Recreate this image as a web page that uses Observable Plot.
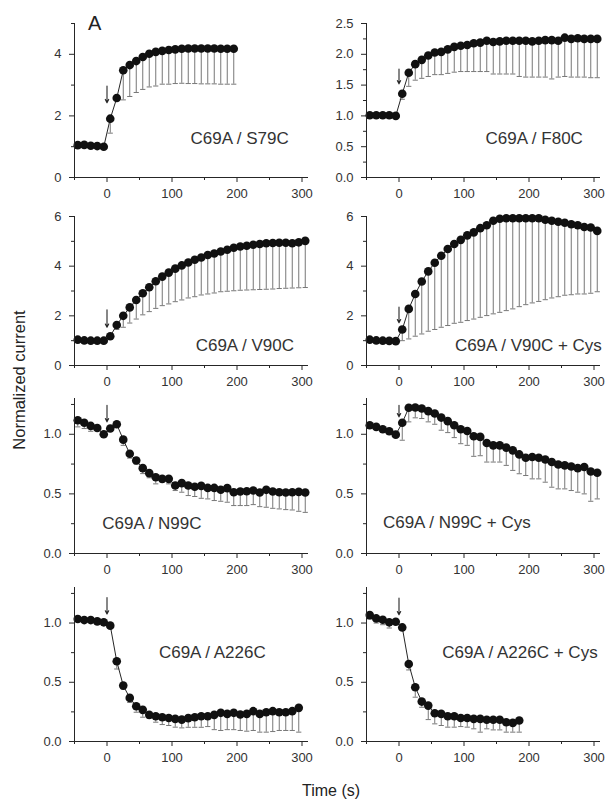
<!DOCTYPE html>
<html><head><meta charset="utf-8">
<script src="https://cdn.jsdelivr.net/npm/d3@7"></script>
<script src="https://cdn.jsdelivr.net/npm/@observablehq/plot@0.6"></script>
<style>
html,body{margin:0;padding:0;background:#fff;}
#chart{position:relative;width:605px;height:800px;overflow:hidden;font-family:"Liberation Sans",Arial,sans-serif;}
#chart svg{position:absolute;}
</style></head><body><div id="chart"></div>
<script>
// Time points (s)
const times = [-45,-35,-25,-15,-5,5,15,25,35,45,55,65,75,85,95,105,115,125,135,145,155,165,175,185,195,205,215,225,235,245,255,265,275,285,295,305];

const panelLabels = ["C69A / S79C","C69A / F80C","C69A / V90C","C69A / V90C + Cys","C69A / N99C","C69A / N99C + Cys","C69A / A226C","C69A / A226C + Cys"];

const s79cMean = [1.05,1.06,1.03,1.02,1.00,1.91,2.58,3.48,3.65,3.78,3.91,4.02,4.08,4.11,4.14,4.16,4.18,4.19,4.19,4.19,4.19,4.19,4.18,4.18,4.18];
const s79cLow  = [null,null,null,null,null,1.44,null,2.52,2.63,2.76,2.86,2.94,2.97,3.03,3.03,3.05,3.06,3.05,3.05,3.04,3.04,3.04,3.03,3.03,3.03];

const f80cMean = [1.01,1.01,1.01,1.01,1.00,1.36,1.70,1.84,1.91,1.98,2.03,2.04,2.08,2.12,2.14,2.15,2.18,2.19,2.22,2.20,2.21,2.22,2.22,2.22,2.22,2.21,2.22,2.23,2.23,2.22,2.27,2.25,2.26,2.25,2.25,2.25];
const f80cLow  = [null,null,null,null,null,1.27,1.48,1.58,1.61,1.64,1.67,1.67,1.69,1.71,1.72,1.72,1.72,1.72,1.72,1.68,1.68,1.68,1.68,1.64,1.63,1.63,1.63,1.63,1.60,1.63,1.64,1.63,1.63,1.63,1.62,1.62];

const v90cMean = [1.04,1.01,1.00,1.00,1.00,1.18,1.63,2.00,2.34,2.64,2.91,3.15,3.39,3.58,3.74,3.90,4.03,4.15,4.26,4.35,4.45,4.51,4.59,4.66,4.74,4.79,4.82,4.86,4.89,4.92,4.93,4.94,4.94,4.92,4.96,5.02];
const v90cLow  = [null,null,null,null,null,null,1.45,1.54,1.71,1.87,2.04,2.17,2.30,2.41,2.48,2.57,2.64,2.72,2.77,2.84,2.88,2.92,2.97,2.99,3.01,3.03,3.04,3.05,3.06,3.07,3.08,3.10,3.11,3.12,3.13,3.14];

const v90cCysMean = [1.04,1.01,1.00,0.99,0.98,1.45,2.28,2.88,3.38,3.79,4.14,4.42,4.69,4.89,5.06,5.24,5.36,5.53,5.65,5.83,5.91,5.93,5.93,5.93,5.93,5.93,5.93,5.87,5.83,5.79,5.75,5.69,5.65,5.58,5.56,5.42];
const v90cCysLow  = [null,null,null,null,null,1.00,1.07,1.18,1.27,1.38,1.45,1.54,1.61,1.70,1.74,1.81,1.87,1.94,2.01,2.08,2.14,2.21,2.28,2.37,2.45,2.52,2.58,2.65,2.72,2.77,2.83,2.85,2.88,2.88,2.91,2.97];

const n99cMean = [1.118,1.096,1.07,1.053,1.0,1.048,1.084,0.955,0.837,0.78,0.716,0.674,0.64,0.626,0.626,0.57,0.59,0.57,0.56,0.567,0.55,0.55,0.535,0.548,0.514,0.52,0.522,0.528,0.511,0.534,0.52,0.514,0.511,0.514,0.517,0.511];
const n99cLow  = [1.062,1.048,1.025,1.03,null,null,null,0.907,0.80,0.75,0.67,0.635,0.584,0.60,0.584,0.528,0.514,0.486,0.478,0.463,0.458,0.444,0.438,0.43,0.402,0.402,0.402,0.41,0.393,0.388,0.379,0.374,0.368,0.365,0.354,0.345];

const n99cCysMean = [1.076,1.062,1.042,1.025,0.997,1.096,1.222,1.225,1.216,1.194,1.174,1.14,1.11,1.076,1.042,1.028,0.983,0.978,0.927,0.907,0.907,0.888,0.865,0.831,0.803,0.809,0.803,0.789,0.767,0.747,0.739,0.73,0.716,0.725,0.688,0.677];
const n99cCysLow  = [null,null,null,null,null,0.95,1.104,1.138,1.132,1.104,1.084,1.034,1.014,0.972,0.921,0.907,0.815,0.82,0.767,0.767,0.767,0.739,0.697,0.669,0.654,0.626,0.626,0.598,0.556,0.542,0.542,0.528,0.514,0.50,0.438,0.458];

const a226cMean = [1.034,1.025,1.025,1.014,1.006,0.978,0.677,0.472,0.368,0.298,0.267,0.225,0.213,0.205,0.199,0.191,0.185,0.197,0.205,0.213,0.213,0.225,0.242,0.233,0.242,0.228,0.233,0.256,0.233,0.247,0.256,0.247,0.247,0.256,0.284];
const a226cLow  = [null,null,null,null,null,null,0.612,0.444,0.33,0.247,0.205,0.197,0.163,0.143,0.135,0.121,0.115,0.12,0.12,0.12,0.126,0.10,0.093,0.10,0.10,0.093,0.087,0.093,0.079,0.079,0.084,0.093,0.093,0.093,0.079];

const a226cCysMean = [1.067,1.039,1.028,1.006,1.011,0.963,0.654,0.458,0.337,0.303,0.239,0.233,0.213,0.213,0.199,0.199,0.191,0.191,0.183,0.183,0.183,0.163,0.157,0.177];
const a226cCysLow  = [1.034,1.00,0.986,0.958,0.99,null,0.604,0.374,0.289,0.185,0.149,0.135,0.121,0.121,0.126,0.121,0.107,0.079,0.107,0.098,0.098,0.079,0.079,0.079];

// Arrow (application at t = 0): [shaft top, tip] in y units
const arrowSpans = [[2.97,2.43],[1.76,1.52],[2.24,1.54],[2.35,1.72],[1.244,1.104],[1.244,1.146],[1.216,1.076],[1.21,1.07]];

// Axis ticks
const xMajor = [0,100,200,300];
const xMinor = [-50,50,150,250];

const means = [s79cMean,f80cMean,v90cMean,v90cCysMean,n99cMean,n99cCysMean,a226cMean,a226cCysMean];
const lows  = [s79cLow,f80cLow,v90cLow,v90cCysLow,n99cLow,n99cCysLow,a226cLow,a226cCysLow];

const yScales = [
  {domain:[0,5],   major:[0,2,4], minor:[1,3,5], fmt:d3.format("d")},
  {domain:[0,2.5], major:[0,0.5,1,1.5,2,2.5], minor:[0.25,0.75,1.25,1.75,2.25], fmt:d3.format(".1f")},
  {domain:[0,6],   major:[0,2,4,6], minor:[1,3,5], fmt:d3.format("d")},
  {domain:[0,6],   major:[0,2,4,6], minor:[1,3,5], fmt:d3.format("d")},
  {domain:[0,1.3], major:[0,0.5,1], minor:[0.25,0.75,1.25], fmt:d3.format(".1f")},
  {domain:[0,1.3], major:[0,0.5,1], minor:[0.25,0.75,1.25], fmt:d3.format(".1f")},
  {domain:[0,1.3], major:[0,0.5,1], minor:[0.25,0.75,1.25], fmt:d3.format(".1f")},
  {domain:[0,1.3], major:[0,0.5,1], minor:[0.25,0.75,1.25], fmt:d3.format(".1f")}
];

// layout
const cols = [{left:0,width:312,ml:74,mr:4},{left:300,width:305,ml:66,mr:5}];
const rowsL = [{top:13,height:194},{top:206,height:189},{top:388,height:195},{top:577,height:194}];
const labelPos = [[204,1.25],[208,0.63],[212,0.8],[199,0.8],[69,0.25],[89,0.26],[162,0.75],[186,0.75]];

const capSymbol = {draw(ctx){ ctx.moveTo(-2.6,0); ctx.lineTo(2.6,0); }};
const ink = "#262626";
const errInk = "#777";
const chart = document.getElementById("chart");

panelLabels.forEach((label, i) => {
  const col = cols[i % 2], row = rowsL[Math.floor(i / 2)];
  const ys = yScales[i];
  const data = means[i].map((m, k) => ({t: times[k], m, lo: lows[i][k]}));
  const errs = data.filter(d => d.lo != null);
  const arr = [{t: 0, y1: arrowSpans[i][0], y2: arrowSpans[i][1]}];
  const svg = Plot.plot({
    width: col.width, height: row.height,
    marginLeft: col.ml, marginRight: col.mr, marginTop: 10, marginBottom: 30,
    x: {domain: [-50, 310], axis: null, label: null},
    y: {domain: ys.domain, axis: null, label: null},
    style: {background: "transparent", overflow: "visible", fontFamily: "'Liberation Sans', Arial, sans-serif", fontSize: "13px", color: "#333"},
    marks: [
      Plot.ruleX(errs, {x: "t", y1: "m", y2: "lo", stroke: errInk, strokeWidth: 1}),
      Plot.dot(errs, {x: "t", y: "lo", symbol: capSymbol, r: 3, stroke: errInk, strokeWidth: 1, fill: "none"}),
      Plot.line(data, {x: "t", y: "m", stroke: ink, strokeWidth: 1}),
      Plot.dot(data, {x: "t", y: "m", r: 4.3, fill: "#111", stroke: "none"}),
      Plot.arrow(arr, {x1: "t", x2: "t", y1: "y1", y2: "y2", stroke: ink, strokeWidth: 1.1, headLength: 5, headAngle: 55}),
      Plot.text([label], {x: labelPos[i][0], y: labelPos[i][1], text: d => d, fontSize: 17, fill: "#333", textAnchor: "middle"}),
      Plot.ruleY([ys.domain[0]], {stroke: ink, strokeWidth: 1}),
      Plot.ruleX([-50], {stroke: ink, strokeWidth: 1}),
      Plot.axisX({ticks: xMajor, label: null, tickSize: 5, tickPadding: 6, fontSize: 13, stroke: ink, tickFormat: d3.format("d")}),
      Plot.axisX({ticks: xMinor, label: null, tickSize: 3, stroke: ink, tickFormat: () => ""}),
      Plot.axisY({ticks: ys.major, label: null, tickSize: 5, tickPadding: 8, fontSize: 13, stroke: ink, tickFormat: ys.fmt}),
      Plot.axisY({ticks: ys.minor, label: null, tickSize: 3, stroke: ink, tickFormat: () => ""})
    ]
  });
  svg.style.left = col.left + "px";
  svg.style.top = row.top + "px";
  chart.appendChild(svg);
});

// Overlay text: panel letter and shared axis titles
const ov = d3.create("svg").attr("width", 605).attr("height", 800)
  .style("left", "0px").style("top", "0px").style("pointer-events", "none")
  .style("font-family", "'Liberation Sans', Arial, sans-serif");
ov.append("text").attr("x", 88).attr("y", 30).attr("font-size", 20).attr("fill", "#222").text("A");
ov.append("text").attr("transform", "translate(25,380) rotate(-90)").attr("text-anchor", "middle")
  .attr("font-size", 16.5).attr("fill", "#222").text("Normalized current");
ov.append("text").attr("x", 331).attr("y", 796).attr("text-anchor", "middle")
  .attr("font-size", 16).attr("fill", "#222").text("Time (s)");
chart.appendChild(ov.node());
</script></body></html>
